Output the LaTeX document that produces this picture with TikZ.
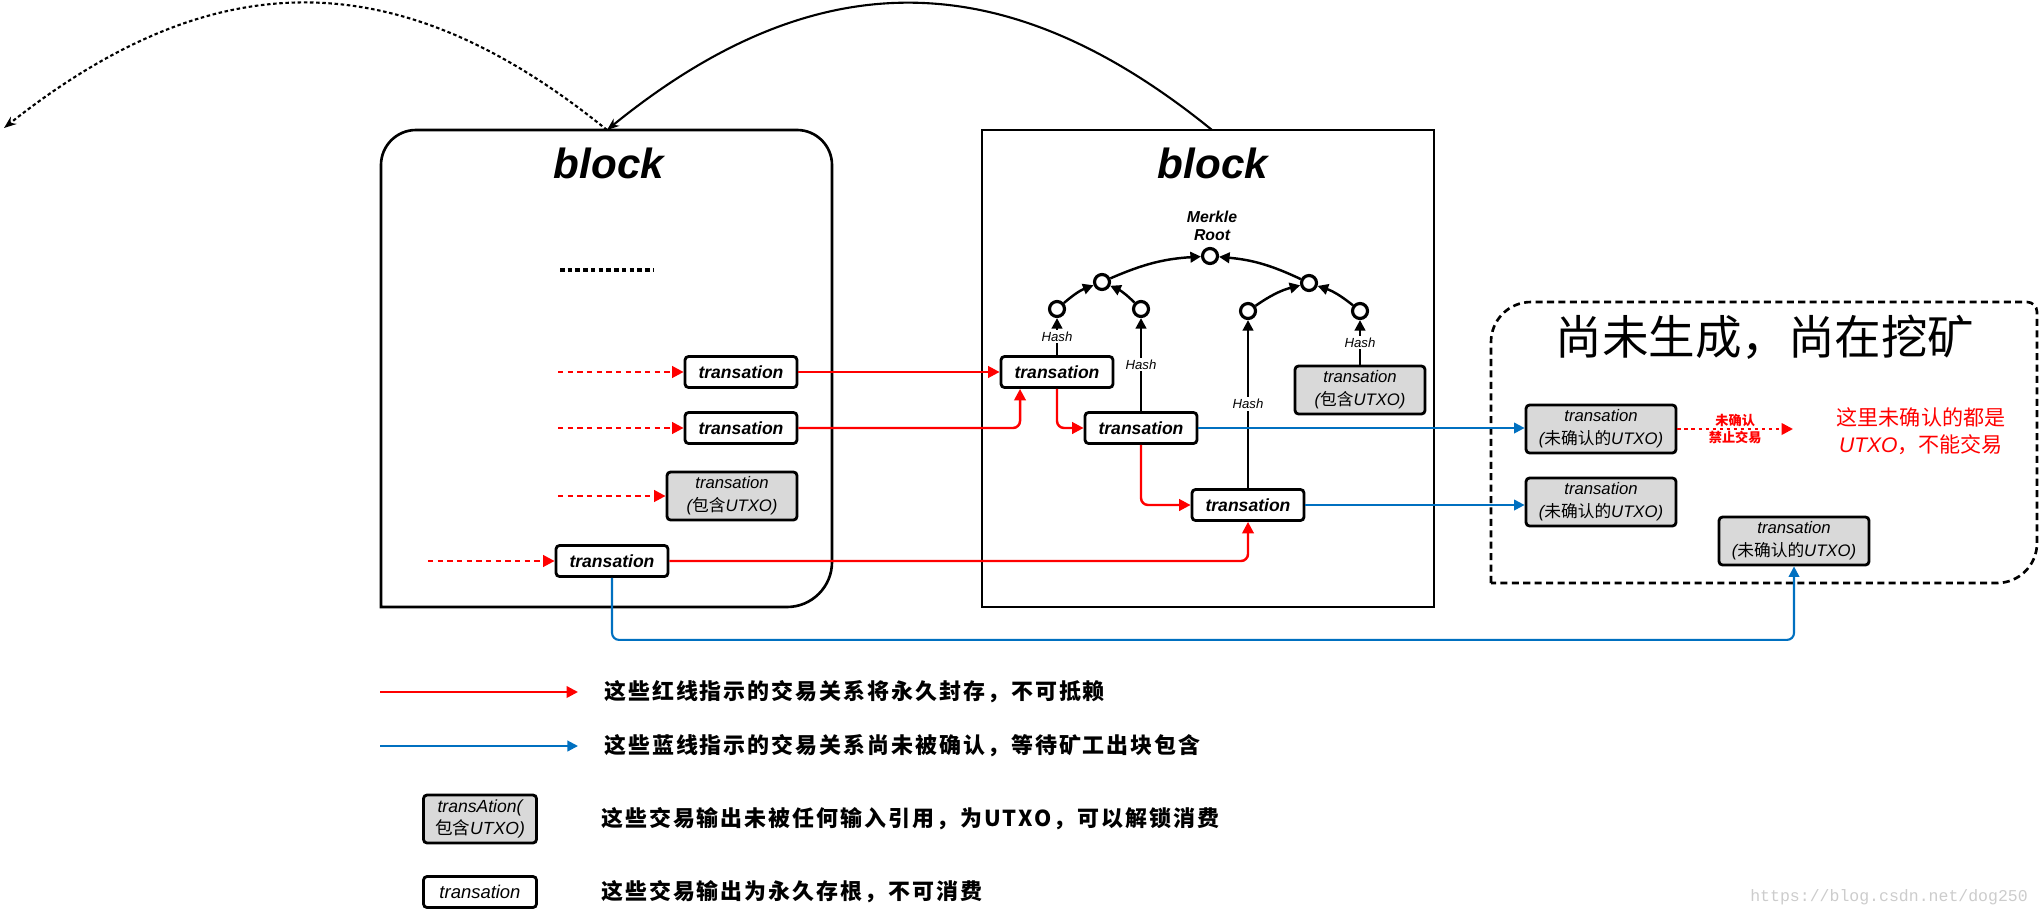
\documentclass[tikz,border=0pt]{standalone}
\usepackage{fontspec}
\setmainfont{Liberation Sans}
\newfontfamily\cjk{Noto Sans CJK SC}
\newfontfamily\cjkleg[LetterSpace=9]{Noto Sans CJK SC}
\newfontfamily\marktt{Liberation Mono}
\usetikzlibrary{arrows.meta}
\definecolor{txgray}{HTML}{D9D9D9}
\definecolor{linkblue}{HTML}{0070C0}
\newcommand{\zh}[1]{{\cjk #1}}

\begin{document}
\begin{tikzpicture}[x=0.02cm,y=-0.02cm,
	tx/.style={draw,line width=1.6pt,rounded corners=2pt,fill=white,minimum width=2.24cm,minimum height=0.62cm,inner sep=1pt,font=\fontsize{10}{12}\selectfont\bfseries\itshape},
	utxo/.style={tx,fill=txgray,minimum height=0.96cm,align=center,font=\fontsize{9.5}{13}\selectfont\itshape},
	knot/.style={draw,circle,line width=1.8pt,minimum size=0.3cm,inner sep=0pt},
	hash/.style={fill=white,inner sep=1pt,font=\fontsize{7.5}{9}\selectfont\itshape},
	tree/.style={line width=1.4pt,-{Triangle[length=6pt,width=6pt]}},
	redline/.style={red,line width=1.4pt,rounded corners=4pt,-{Triangle[length=6.5pt,width=6.5pt]}},
	blueline/.style={linkblue,line width=1.2pt,rounded corners=4pt,-{Triangle[length=6pt,width=6pt]}},
	feed/.style={redline,dash pattern=on 3pt off 2.5pt},
	legend/.style={anchor=west,font=\cjkleg\fontsize{12.5}{15}\selectfont\bfseries},
	blk/.style={line width=1.5pt}]
	\useasboundingbox (0,0) rectangle (2044,916);

	%draw the two blocks and the mining area
	\draw[blk] (381,607) -- (381,165) arc[start angle=180,end angle=90,radius=0.7cm] -- (797,130)
		arc[start angle=90,end angle=0,radius=0.7cm] -- (832,562) arc[start angle=0,end angle=-90,radius=0.9cm] -- cycle;
	\draw[blk] (982,130) rectangle (1434,607);
	\draw[line width=1.5pt,dash pattern=on 4pt off 2.5pt] (1491,583) -- (1491,342) arc[start angle=180,end angle=90,radius=0.8cm]
		-- (2027,302) arc[start angle=90,end angle=0,radius=0.2cm] -- (2037,543) arc[start angle=0,end angle=-90,radius=0.8cm] -- cycle;

	\node[font=\fontsize{24}{28}\selectfont\bfseries\itshape] (oldtitle) at (609,163) {block};
	\node[font=\fontsize{24}{28}\selectfont\bfseries\itshape] (newtitle) at (1213,163) {block};
	\node[font=\cjk\fontsize{26.5}{30}\selectfont] (minetitle) at (1765,337) {尚未生成，尚在挖矿};
	\draw[line width=2.6pt,dash pattern=on 2.6pt off 1.8pt] (560,270) -- (653,270);

	%the chain of blocks
	\coordinate (oldtop) at (607,130);
	\coordinate (newtop) at (1212,130);
	\coordinate (older) at (4,128);
	\draw[line width=1.2pt,-{Stealth[length=7pt]}] (newtop) .. controls (1004,-39) and (815,-39) .. (oldtop);
	\draw[line width=1.2pt,dash pattern=on 2pt off 1.5pt,-{Stealth[length=7pt]}] (oldtop) .. controls (399,-39) and (215,-39) .. (older);

	%transactions of the old block
	\node[tx] (o1) at (741,372) {transation};
	\node[tx] (o2) at (741,428) {transation};
	\node[utxo,minimum width=2.6cm] (o3) at (732,496) {transation\\(\zh{包含}UTXO)};
	\node[tx] (o4) at (612,561) {transation};
	\coordinate (in1) at (558,372);
	\coordinate (in2) at (558,428);
	\coordinate (in3) at (558,496);
	\coordinate (in4) at (428,561);
	\draw[feed] (in1) -- (o1);
	\draw[feed] (in2) -- (o2);
	\draw[feed] (in3) -- (o3);
	\draw[feed] (in4) -- (o4);

	%transactions of the new block
	\node[tx] (ta) at (1057,372) {transation};
	\node[tx] (tb) at (1141,428) {transation};
	\node[tx] (tc) at (1248,505) {transation};
	\node[utxo,minimum width=2.6cm] (td) at (1360,390) {transation\\(\zh{包含}UTXO)};

	%the merkle tree
	\node[knot] (root) at (1210,256) {};
	\node[font=\fontsize{9}{10}\selectfont\bfseries\itshape,align=center] (rootname) at (1212,226) {Merkle\\Root};
	\node[knot] (m1) at (1102,282) {};
	\node[knot] (m2) at (1309,283) {};
	\node[knot] (h1) at (1057,309) {};
	\node[knot] (h2) at (1141,309) {};
	\node[knot] (h3) at (1248,311) {};
	\node[knot] (h4) at (1360,311) {};
	\draw[tree] (m1) to[bend left=10] (root);
	\draw[tree] (m2) to[bend right=10] (root);
	\draw[tree] (h1) to[bend left=10] (m1);
	\draw[tree] (h2) to[bend right=10] (m1);
	\draw[tree] (h3) to[bend left=10] (m2);
	\draw[tree] (h4) to[bend right=10] (m2);
	\draw[tree] (ta) -- node[hash] {Hash} (h1);
	\draw[tree] (tb) -- node[hash] {Hash} (h2);
	\draw[tree] (tc) -- node[hash] {Hash} (h3);
	\draw[tree] (td) -- node[hash] {Hash} (h4);

	%red links are sealed
	\draw[redline] (o1) -- (ta);
	\draw[redline] (o2.east) -| ([xshift=-0.74cm]ta.south);
	\draw[redline] (ta.south) |- (tb.west);
	\draw[redline] (tb.south) |- (tc.west);
	\draw[redline] (o4.east) -| (tc.south);

	%unconfirmed outputs
	\node[utxo,minimum width=3cm] (u1) at (1601,429) {transation\\(\zh{未确认的}UTXO)};
	\node[utxo,minimum width=3cm] (u2) at (1601,502) {transation\\(\zh{未确认的}UTXO)};
	\node[utxo,minimum width=3cm] (u3) at (1794,541) {transation\\(\zh{未确认的}UTXO)};
	\draw[blueline] (tb) -- (tb -| u1.west);
	\draw[blueline] (tc) -- (tc -| u2.west);
	\draw[blueline] (o4.south) -- ++(0,62) -| (u3.south);

	\coordinate (stop) at (1793,429);
	\draw[red,line width=1.4pt,dash pattern=on 2pt off 2pt,-{Triangle[length=6.5pt,width=6.5pt]}] (u1) --
		node[text=red,align=center,font=\cjk\fontsize{7.5}{9.5}\selectfont\bfseries] {未确认\\禁止交易} (stop);
	\node[text=red,align=center,font=\fontsize{12}{15.3}\selectfont] (note) at (1921,431) {\zh{这里未确认的都是}\\\textit{UTXO}\zh{，不能交易}};

	%legend
	\coordinate (redfrom) at (380,692);
	\coordinate (redto) at (578,692);
	\coordinate (bluefrom) at (380,746);
	\coordinate (blueto) at (578,746);
	\draw[redline] (redfrom) -- (redto);
	\draw[blueline] (bluefrom) -- (blueto);
	\node[legend] (redtext) at (598,692) {这些红线指示的交易关系将永久封存，不可抵赖};
	\node[legend] (bluetext) at (598,746) {这些蓝线指示的交易关系尚未被确认，等待矿工出块包含};
	\node[utxo,minimum width=2.26cm,font=\fontsize{10}{13}\selectfont\itshape] (keygray) at (480,819) {transAtion(\\\zh{包含}UTXO)};
	\node[legend] (graytext) at (595,819) {这些交易输出未被任何输入引用，为UTXO，可以解锁消费};
	\node[tx,minimum width=2.26cm,font=\fontsize{10.5}{12}\selectfont\itshape] (keywhite) at (480,892) {transation};
	\node[legend] (whitetext) at (595,892) {这些交易输出为永久存根，不可消费};

	\node[anchor=east,text=gray!40,font=\marktt\fontsize{9.4}{11}\selectfont] (mark) at (2034,897) {https://blog.csdn.net/dog250};
\end{tikzpicture}
\end{document}
